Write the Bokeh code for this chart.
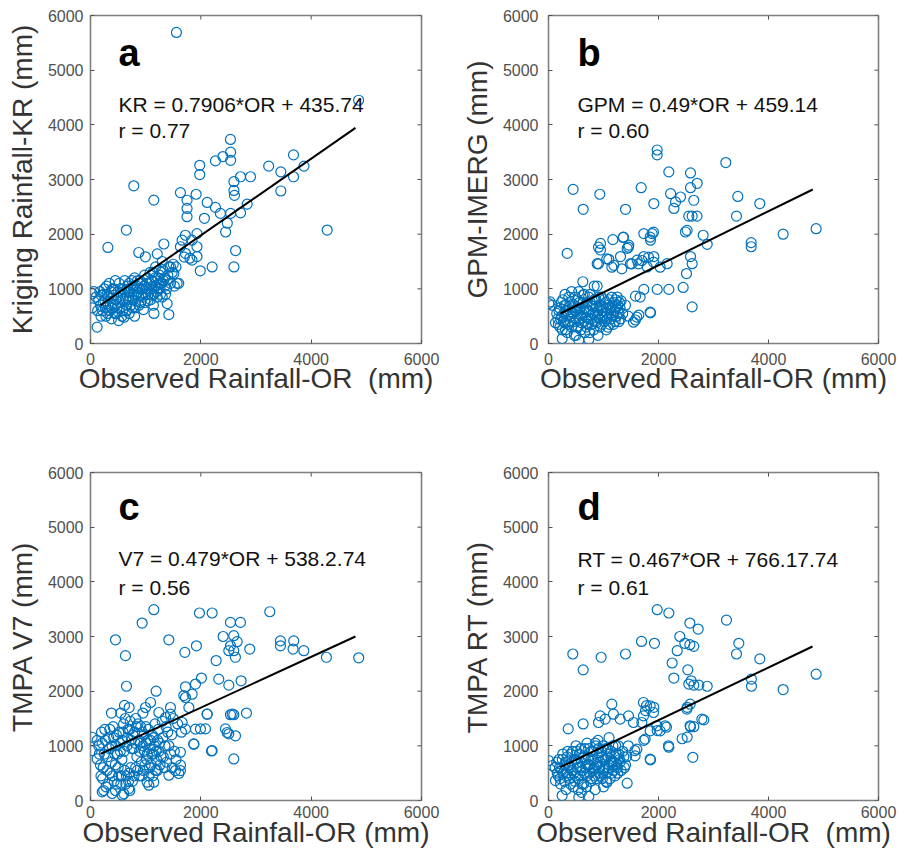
from bokeh.plotting import figure
from bokeh.models import Range1d, Label, FixedTicker
from bokeh.layouts import column, row
from bokeh.embed import file_html
from bokeh.resources import INLINE

# ---------------- data ----------------
X_TICKS = [0, 2000, 4000, 6000]
Y_TICKS = [0, 1000, 2000, 3000, 4000, 5000, 6000]

PANEL_A_POINTS = [
    (1558, 5690), (4860, 4450), (2537, 3733), (2540, 3500), (2540, 3350), (3680, 3450), (3870, 3245),
    (3230, 3245), (3450, 3140), (3680, 3050), (3450, 2790), (1980, 3260), (1980, 3090), (2265, 3340),
    (2400, 3420), (785, 2885), (1148, 2623), (1630, 2760), (1915, 2730), (1750, 2620), (1750, 2470),
    (1750, 2320), (2115, 2580), (2065, 2290), (2265, 2490), (2355, 2380), (2600, 2960), (2600, 2800),
    (2610, 2710), (2720, 3050), (2900, 3050), (2840, 2550), (2720, 2390), (2540, 2380), (2480, 2200),
    (2450, 2040), (4290, 2075), (2630, 1700), (2600, 1400), (2205, 1400), (1990, 1330), (650, 2075),
    (315, 1757), (1330, 1820), (875, 1665), (995, 1586), (1630, 1770), (1720, 1650), (1840, 1525),
    (1930, 1590), (1930, 2010), (1840, 1890), (1930, 1770), (1660, 1890), (1720, 1980), (1210, 1640),
    (1420, 530), (1150, 550), (1390, 730), (1570, 1100), (1450, 1400), (1510, 1280), (1390, 1160),
    (1270, 1100), (1800, 1560), (1700, 1580),
    (30, 910), (60, 950), (30, 650), (120, 300), (150, 800), (180, 700), (200, 880), (220, 600),
    (250, 1000), (260, 780), (280, 500), (300, 900), (320, 700), (340, 1100), (350, 600), (360, 820),
    (380, 450), (400, 1000), (410, 720), (420, 880), (440, 550), (450, 1150), (460, 800), (480, 650),
    (500, 950), (510, 420), (520, 1100), (540, 750), (560, 880), (580, 600), (600, 1000), (610, 480),
    (620, 1150), (640, 820), (660, 700), (680, 950), (700, 550), (700, 1100), (720, 850), (740, 1000),
    (760, 650), (780, 900), (800, 1200), (800, 500), (820, 780), (840, 1050), (860, 950), (880, 700),
    (900, 1150), (920, 880), (940, 1000), (960, 620), (980, 1250), (1000, 900), (1020, 1100), (1040, 780),
    (1060, 1000), (1080, 1300), (1100, 900), (1120, 1150), (1140, 700), (1160, 1050), (1180, 1400),
    (1200, 950), (1220, 1200), (1240, 1100), (1260, 1000), (1280, 1300), (1300, 850), (1320, 1150),
    (1350, 1050), (1380, 1000), (1400, 1250), (1420, 1400), (1450, 1100), (1480, 1300), (1500, 1450),
    (1520, 1050), (1550, 1400), (1600, 1100), (1300, 1500),
    (100, 850), (130, 600), (170, 950), (190, 500), (230, 750), (240, 900), (270, 650), (290, 1050),
    (310, 550), (330, 850), (370, 950), (390, 650), (430, 1000), (450, 700), (470, 550), (490, 850),
    (530, 650), (550, 1000), (570, 500), (590, 800), (630, 950), (650, 600), (670, 1050), (690, 800),
    (710, 950), (730, 700), (750, 1150), (770, 800), (790, 1050), (810, 650), (830, 900), (850, 1150),
    (870, 850), (890, 1000), (910, 750), (930, 1100), (950, 850), (970, 1050), (990, 750), (1010, 1000),
    (1030, 1200), (1050, 900), (1070, 1100), (1090, 800), (1110, 1000), (1130, 1300), (1150, 900),
    (1170, 1200), (1190, 1050), (1210, 850), (1230, 1000), (1250, 1250), (1270, 900), (1290, 1100),
    (1310, 1350), (1340, 1200), (1360, 900),
]

PANEL_B_POINTS = [
    (4866, 2100), (4266, 2000), (3842, 2560), (3442, 2690), (3418, 2330), (3685, 1845), (3685, 1770),
    (3224, 3310), (2885, 1815), (2812, 1980), (2703, 2930), (2582, 3120), (2582, 2850), (2642, 2620),
    (2612, 2330), (2550, 2330), (2700, 2330), (2520, 2070), (2490, 2040), (2400, 2680), (2310, 2590),
    (2220, 2740), (2280, 2470), (2188, 3140), (1976, 3540), (1976, 3450), (1915, 2560), (1685, 2850),
    (933, 2730), (448, 2820), (630, 2455), (1400, 2455), (1733, 2010), (1885, 2010), (1855, 1890),
    (2157, 1460), (1733, 1590), (1915, 1590), (1794, 1400), (1612, 1525), (2582, 1590), (2612, 1460),
    (2509, 1280), (2448, 1025), (2188, 990), (1976, 990), (1733, 990), (1582, 866), (2612, 670),
    (1855, 560), (1642, 520), (1580, 430), (945, 1830), (945, 1710), (885, 1460), (1357, 1940),
    (1460, 1800), (1430, 1740), (1309, 1590), (1188, 1430), (1490, 1460), (1170, 1900), (1097, 1540),
    (340, 1650), (624, 1130), (885, 1050), (6, 730), (67, 700), (30, 760), (127, 380), (248, 90),
    (551, 60), (733, 75), (909, 1762), (1363, 1945), (1454, 1762), (909, 1457), (1060, 1548),
    (1151, 1396), (1333, 1366), (1515, 1457), (1636, 1457), (1697, 1518), (1848, 1945), (1909, 2036),
    (1818, 1579), (1909, 1488), (2030, 1396), (1666, 848), (1848, 573), (1606, 482), (1545, 390),
    (150, 550), (180, 350), (200, 650), (220, 450), (250, 250), (260, 800), (280, 550), (300, 380),
    (320, 700), (340, 200), (350, 500), (370, 850), (380, 620), (400, 400), (420, 300), (440, 720),
    (450, 550), (470, 150), (480, 850), (500, 450), (520, 650), (540, 300), (560, 750), (580, 520),
    (600, 380), (620, 880), (640, 620), (660, 200), (680, 480), (700, 750), (720, 350), (740, 580),
    (760, 900), (780, 450), (800, 680), (820, 250), (840, 520), (860, 800), (880, 380), (900, 600),
    (920, 700), (940, 300), (960, 850), (980, 500), (1000, 650), (1020, 400), (1040, 750), (1060, 550),
    (1080, 300), (1100, 800), (1120, 650), (1140, 450), (1160, 700), (1180, 350), (1200, 600),
    (1220, 800), (1240, 500), (1260, 700), (1280, 400), (1300, 650), (1320, 780), (1350, 550),
    (1400, 700), (1450, 500), (500, 150), (750, 200), (900, 150), (1050, 250), (650, 900), (300, 900),
    (420, 950), (550, 950), (830, 1050),
    (170, 450), (190, 600), (210, 300), (230, 750), (240, 500), (270, 400), (290, 700), (310, 250),
    (330, 600), (360, 350), (390, 750), (410, 500), (430, 650), (460, 400), (490, 600), (510, 300),
    (530, 800), (550, 450), (570, 650), (590, 250), (610, 550), (630, 750), (650, 400), (670, 650),
    (690, 300), (710, 600), (730, 850), (750, 450), (770, 700), (790, 350), (810, 550), (830, 800),
    (850, 400), (870, 650), (890, 500), (910, 850), (930, 450), (950, 700), (970, 350), (990, 600),
    (1010, 800), (1030, 500), (1050, 650), (1070, 450), (1090, 700), (1110, 350), (1130, 550),
    (1150, 850), (1170, 500), (1190, 750), (1210, 400), (1230, 650), (1250, 850), (1270, 550),
    (1290, 750), (1310, 450),
]

PANEL_C_POINTS = [
    (1148, 3490), (936, 3246), (1975, 3430), (2205, 3430), (3250, 3453), (2537, 3258), (2718, 3258),
    (1420, 2940), (453, 2940), (634, 2650), (1710, 2710), (1920, 2830), (2404, 3000), (2597, 3015),
    (2537, 2830), (2597, 2740), (2627, 2620), (2507, 2740), (2658, 2905), (2887, 2770), (3443, 2920),
    (3684, 2920), (3443, 2830), (3672, 2770), (3866, 2740), (4276, 2620), (4862, 2610), (2277, 2560),
    (2011, 2240), (1903, 2130), (1722, 2080), (1691, 1920), (2325, 2220), (2507, 2110), (2730, 2190),
    (1190, 2000), (652, 2090), (616, 1740), (380, 1600), (2827, 1600), (2597, 1570), (2537, 1570),
    (2114, 1580), (1993, 1310), (2084, 1310), (2446, 1310), (2507, 1220), (1872, 1035), (2205, 913),
    (2597, 760), (1630, 883), (1630, 548), (1540, 548), (30, 1157), (30, 913), (120, 760), (240, 183),
    (453, 183), (604, 122), (713, 183), (1027, 335), (1148, 335), (997, 1701), (1088, 1793),
    (1239, 1610), (1450, 1701), (1450, 1579), (1360, 1518), (1722, 1884), (1783, 1701), (1843, 1945),
    (2115, 1579), (2568, 1579), (2628, 1183), (2477, 1244), (1903, 1305), (1722, 1305), (1662, 1427),
    (1873, 1030), (2193, 907), (212, 158), (393, 128), (574, 97), (695, 219), (1058, 280), (1420, 463),
    (1601, 494), (1631, 646),
    (150, 1000), (180, 650), (200, 1250), (220, 400), (250, 850), (270, 1100), (300, 550), (320, 300),
    (340, 950), (350, 1300), (380, 700), (400, 450), (420, 1150), (440, 850), (460, 1000), (480, 300),
    (500, 600), (520, 1250), (540, 900), (560, 450), (580, 1100), (600, 1400), (620, 550), (640, 300),
    (660, 1000), (680, 1300), (700, 500), (720, 1450), (740, 1100), (760, 350), (780, 950), (800, 1250),
    (820, 600), (840, 800), (860, 1400), (880, 450), (900, 1050), (920, 700), (940, 1250), (960, 550),
    (980, 900), (1000, 1350), (1020, 750), (1040, 1100), (1060, 450), (1080, 950), (1100, 650),
    (1120, 1200), (1140, 850), (1160, 1000), (1180, 550), (1200, 750), (1220, 1100), (1240, 900),
    (1260, 650), (1300, 1450), (1320, 800), (1350, 1000), (1380, 700), (1400, 1250), (1450, 850),
    (1480, 600), (1500, 1500), (1550, 750), (1580, 1400), (1650, 1250), (820, 1500), (950, 1600),
    (550, 1600), (700, 1700),
    (120, 1100), (160, 850), (190, 450), (210, 1050), (230, 600), (260, 1300), (280, 250), (310, 800),
    (330, 1150), (360, 500), (390, 1000), (410, 1350), (430, 350), (450, 650), (470, 1200), (490, 850),
    (510, 450), (530, 1050), (550, 300), (570, 750), (590, 1250), (610, 900), (630, 1500), (650, 450),
    (670, 1150), (690, 350), (710, 1300), (730, 600), (750, 950), (770, 1200), (790, 450), (810, 1050),
    (830, 1350), (850, 550), (870, 1100), (890, 900), (910, 1350), (930, 450), (950, 1000), (970, 1200),
    (990, 650), (1010, 1050), (1030, 850), (1050, 1300), (1070, 600), (1090, 1100), (1110, 850),
    (1130, 450), (1150, 1150), (1170, 1400), (1190, 900), (1210, 550), (1230, 1300), (1250, 1050),
    (1280, 800), (1310, 1150), (1340, 600), (1370, 1350), (1420, 1000), (1470, 1200), (1520, 900),
]

PANEL_D_POINTS = [
    (1976, 3490), (2188, 3430), (3236, 3300), (2570, 3246), (2721, 3136), (2388, 3000), (1691, 2910),
    (1927, 2875), (2479, 2875), (2570, 2850), (2642, 2820), (3460, 2875), (3418, 2680), (2340, 2740),
    (2248, 2515), (2279, 2240), (3842, 2590), (442, 2680), (957, 2620), (1400, 2680), (630, 2390),
    (2533, 2390), (2594, 2190), (2642, 2110), (2733, 2110), (2885, 2090), (2551, 2130), (3690, 2220),
    (3690, 2090), (4266, 2030), (4866, 2310), (2521, 1705), (2824, 1475), (2582, 1350), (2642, 1350),
    (2430, 1130), (2521, 1160), (2188, 975), (2624, 790), (1855, 743), (1782, 1735), (1915, 1705),
    (1764, 1645), (2145, 1340), (1976, 1280), (1733, 1100), (1570, 913), (1430, 317), (358, 1310),
    (630, 1400), (6, 730), (67, 640), (127, 365), (248, 90), (551, 60), (733, 75), (1151, 1762),
    (939, 1548), (909, 1427), (1030, 1488), (1181, 1579), (1303, 1488), (1454, 1548), (1545, 1427),
    (1727, 1793), (1848, 1731), (1909, 1610), (1727, 1548), (1697, 1427), (1970, 1366), (2121, 1366),
    (2030, 1274), (1848, 1274), (1757, 1122), (1606, 939), (1575, 817), (1060, 330), (1848, 756),
    (2181, 1000), (2575, 1366), (2788, 1488), (2515, 1671), (2575, 1762),
    (150, 700), (180, 450), (200, 600), (220, 300), (250, 750), (270, 500), (300, 650), (320, 200),
    (340, 800), (360, 450), (380, 600), (400, 300), (420, 700), (440, 900), (460, 500), (480, 350),
    (500, 750), (520, 600), (540, 200), (560, 850), (580, 450), (600, 700), (620, 550), (640, 300),
    (660, 950), (680, 600), (700, 450), (720, 800), (740, 650), (760, 350), (780, 900), (800, 550),
    (820, 750), (840, 450), (860, 1000), (880, 650), (900, 800), (920, 500), (940, 700), (960, 900),
    (980, 400), (1000, 750), (1020, 600), (1040, 950), (1060, 500), (1080, 800), (1100, 650),
    (1120, 400), (1140, 900), (1160, 700), (1180, 550), (1200, 800), (1220, 1000), (1240, 650),
    (1260, 500), (1280, 850), (1300, 700), (1350, 900), (1380, 600), (1420, 800), (1450, 1000),
    (500, 1000), (700, 1050), (900, 1100), (1100, 1150), (600, 150), (850, 200), (1000, 250),
    (120, 600), (160, 500), (190, 750), (210, 400), (240, 550), (260, 850), (290, 350), (310, 700),
    (330, 500), (350, 900), (370, 650), (390, 400), (410, 850), (430, 550), (450, 250), (470, 750),
    (490, 450), (510, 900), (530, 700), (550, 400), (570, 600), (590, 950), (610, 300), (630, 800),
    (650, 500), (670, 750), (690, 250), (710, 650), (730, 950), (750, 500), (770, 750), (790, 400),
    (810, 900), (830, 600), (850, 1050), (870, 400), (890, 700), (910, 950), (930, 600), (950, 450),
    (970, 800), (990, 1000), (1010, 550), (1030, 750), (1050, 350), (1070, 950), (1090, 600),
    (1110, 850), (1130, 700), (1150, 500), (1170, 1000), (1190, 700), (1210, 450), (1230, 850),
    (1250, 600), (1270, 1000), (1290, 750), (1320, 550), (1370, 800), (1400, 650),
]

FIT_A_X, FIT_A_Y = [181, 4803], [700, 3945]
FIT_B_X, FIT_B_Y = [218, 4805], [549, 2817]
FIT_C_X, FIT_C_Y = [181, 4803], [854, 3000]
FIT_D_X, FIT_D_Y = [218, 4800], [610, 2817]

LETTERS = ["a", "b", "c", "d"]
EQUATIONS = ["KR = 0.7906*OR + 435.74", "GPM = 0.49*OR + 459.14",
             "V7 = 0.479*OR + 538.2.74", "RT = 0.467*OR + 766.17.74"]
R_TEXTS = ["r = 0.77", "r = 0.60", "r = 0.56", "r = 0.61"]
Y_LABELS = ["Kriging Rainfall-KR (mm)", "GPM-IMERG (mm)", "TMPA V7 (mm)", "TMPA RT (mm)"]
X_LABELS = ["Observed Rainfall-OR\u00a0 (mm)", "Observed Rainfall-OR (mm)",
            "Observed Rainfall-OR (mm)", "Observed Rainfall-OR\u00a0 (mm)"]

# ---------------- style ----------------
FONT = "Liberation Sans"
BLUE = "#0072BD"
TICK_COL = "#505050"
LABEL_COL = "#333333"
FRAME_COL = "#808080"
TICK_LEN = 75  # inner tick length on the top/right edges, in axis units (~4 px)


def panel(points, fx, fy, idx, width, height, bl, br, bt, bb, ystand, xstand, xlab_stand,
          tx, ly, ey, ry):
    p = figure(width=width, height=height, x_range=Range1d(0, 6000), y_range=Range1d(0, 6000),
               output_backend="svg", toolbar_location=None,
               min_border_left=bl, min_border_right=br, min_border_top=bt, min_border_bottom=bb)
    p.grid.visible = False
    p.outline_line_color = FRAME_COL
    p.outline_line_width = 1.6
    p.background_fill_color = "white"
    p.border_fill_color = "white"

    for ax, ticks, lab in ((p.xaxis[0], X_TICKS, X_LABELS[idx]), (p.yaxis[0], Y_TICKS, Y_LABELS[idx])):
        ax.ticker = FixedTicker(ticks=ticks)
        ax.axis_label = lab
        ax.axis_label_text_font = FONT
        ax.axis_label_text_font_size = "28px"
        ax.axis_label_text_font_style = "normal"
        ax.axis_label_text_color = LABEL_COL
        ax.major_label_text_font = FONT
        ax.major_label_text_font_size = "16px"
        ax.major_label_text_color = TICK_COL
        ax.major_tick_in = 4
        ax.major_tick_out = 0
        ax.major_tick_line_color = TICK_COL
        ax.minor_tick_line_color = None
        ax.axis_line_color = None
    p.yaxis[0].major_label_standoff = ystand
    p.yaxis[0].axis_label_standoff = 7
    p.xaxis[0].major_label_standoff = xstand
    p.xaxis[0].axis_label_standoff = xlab_stand

    # inner ticks on the top and right edges of the box
    p.segment(x0=[6000] * len(Y_TICKS), y0=Y_TICKS, x1=[6000 - TICK_LEN] * len(Y_TICKS), y1=Y_TICKS,
              line_color=TICK_COL, line_width=1)
    p.segment(x0=X_TICKS, y0=[6000] * len(X_TICKS), x1=X_TICKS, y1=[6000 - TICK_LEN] * len(X_TICKS),
              line_color=TICK_COL, line_width=1)

    xs = [pt[0] for pt in points]
    ys = [pt[1] for pt in points]
    p.scatter(xs, ys, marker="circle", size=10, fill_color=None, line_color=BLUE, line_width=1.2)
    p.line(fx, fy, line_color="black", line_width=2)

    p.add_layout(Label(x=tx, y=ly, text=LETTERS[idx], text_font=FONT, text_font_size="38px",
                       text_font_style="bold", text_color="black", text_baseline="alphabetic"))
    p.add_layout(Label(x=tx, y=ey, text=EQUATIONS[idx], text_font=FONT, text_font_size="21px",
                       text_color="#111111", text_baseline="alphabetic"))
    p.add_layout(Label(x=tx, y=ry, text=R_TEXTS[idx], text_font=FONT, text_font_size="21px",
                       text_color="#111111", text_baseline="alphabetic"))
    return p


pa = panel(PANEL_A_POINTS, FIT_A_X, FIT_A_Y, 0, 449, 420, 90, 28, 15, 77, 7, 9, -5,
           507, 5305, 4372, 3896)
pb = panel(PANEL_B_POINTS, FIT_B_X, FIT_B_Y, 1, 450, 420, 99, 21, 15, 77, 10, 9, -5,
           527, 5323, 4372, 3896)
pc = panel(PANEL_C_POINTS, FIT_C_X, FIT_C_Y, 2, 449, 431, 90, 28, 52, 51, 7, 5, -4,
           507, 5360, 4427, 3896)
pd = panel(PANEL_D_POINTS, FIT_D_X, FIT_D_Y, 3, 450, 431, 99, 21, 52, 51, 10, 5, -4,
           527, 5360, 4408, 3896)

layout = column(row(pa, pb), row(pc, pd))
open("out.html", "w").write(file_html(layout, INLINE))
